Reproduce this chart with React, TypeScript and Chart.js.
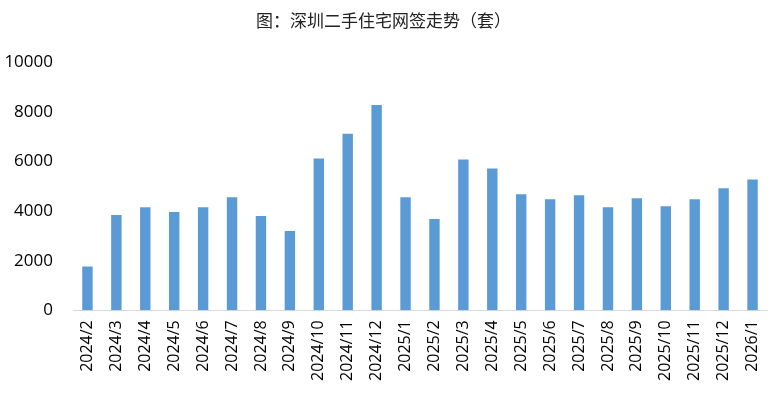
import React, { useEffect, useRef } from "react";
import Chart from "chart.js/auto";

const categories = [
  "2024/2", "2024/3", "2024/4", "2024/5", "2024/6", "2024/7", "2024/8", "2024/9",
  "2024/10", "2024/11", "2024/12", "2025/1", "2025/2", "2025/3", "2025/4", "2025/5",
  "2025/6", "2025/7", "2025/8", "2025/9", "2025/10", "2025/11", "2025/12", "2026/1",
];
const values = [
  1760, 3840, 4160, 3960, 4160, 4560, 3800, 3200,
  6120, 7120, 8280, 4560, 3680, 6080, 5720, 4680,
  4480, 4640, 4160, 4520, 4200, 4480, 4920, 5280,
];
const titleText = "图：深圳二手住宅网签走势（套）";

export default function App() {
  const ref = useRef<HTMLCanvasElement | null>(null);
  useEffect(() => {
    if (!ref.current) return;
    const chart = new Chart(ref.current, {
      type: "bar",
      data: {
        labels: categories,
        datasets: [
          {
            data: values,
            backgroundColor: "#5b9bd5",
            barPercentage: 0.36,
            categoryPercentage: 1,
          },
        ],
      },
      options: {
        animation: false,
        responsive: false,
        layout: { padding: { left: 0, right: 7, top: 4, bottom: 8 } },
        plugins: {
          legend: { display: false },
          tooltip: { enabled: false },
          title: {
            display: true,
            text: titleText,
            color: "#222",
            font: { family: "'Noto Sans CJK SC'", size: 17, weight: "normal" },
            padding: { top: 6, bottom: 32 },
          },
        },
        scales: {
          x: {
            grid: { display: false, drawTicks: false },
            border: { display: true, color: "#d9d9d9", width: 1 },
            afterFit: (scale: any) => {
              scale.paddingRight = 0;
              scale.paddingLeft = 0;
            },
            ticks: {
              minRotation: 90,
              maxRotation: 90,
              autoSkip: false,
              color: "#000",
              padding: 10,
              font: { family: "'Open Sans'", size: 16 },
            },
          },
          y: {
            min: 0,
            max: 10000,
            grid: { display: false, drawTicks: false },
            border: { display: false },
            afterFit: (scale: any) => {
              scale.width = 73;
            },
            ticks: {
              stepSize: 2000,
              color: "#000",
              padding: 20,
              font: { family: "'Open Sans'", size: 17 },
              callback: (v: any) => String(v),
            },
          },
        },
      },
    });
    return () => chart.destroy();
  }, []);
  return (
    <div style={{ position: "fixed", left: 0, top: 0, width: 774, height: 399, background: "#fff" }}>
      <canvas ref={ref} width={774} height={399} style={{ width: 774, height: 399 }} />
    </div>
  );
}
